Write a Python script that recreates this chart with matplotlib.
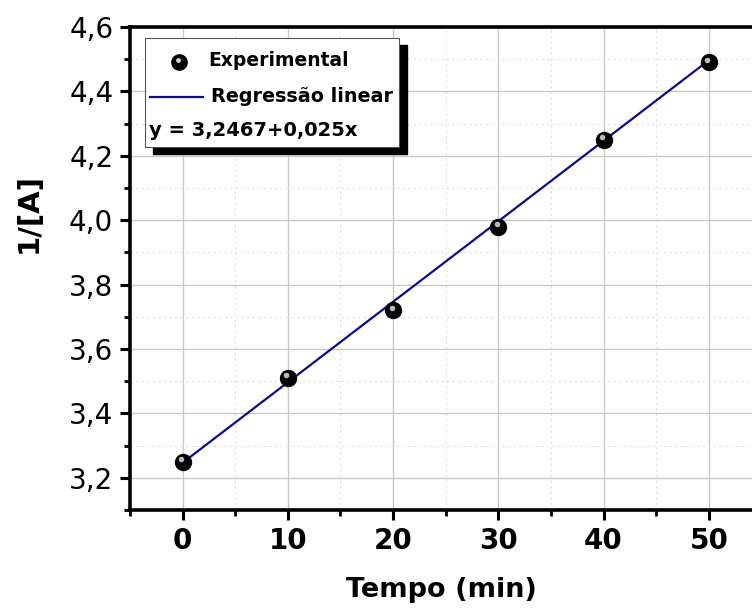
import matplotlib.pyplot as plt
from matplotlib.lines import Line2D
from matplotlib.patches import Rectangle
from matplotlib.ticker import MultipleLocator, FuncFormatter
import matplotlib.transforms as mtransforms
import numpy as np

# data
tempo = [0, 10, 20, 30, 40, 50]
inv_a = [3.25, 3.51, 3.72, 3.98, 4.25, 4.49]
intercept = 3.2467
slope = 0.025

W, H = 752, 609
fig = plt.figure(figsize=(W / 100, H / 100), dpi=100)
ax = fig.add_axes([130 / W, 1 - 510 / H, (W - 130) / W, (510 - 27) / H])


def fx(px):
    return px / W


def fy(py):
    return 1 - py / H


comma = FuncFormatter(lambda v, p: f"{v:.1f}".replace(".", ","))

# grid
ax.set_xlim(-5, 54.1)
ax.set_ylim(3.1, 4.6)
ax.xaxis.set_major_locator(MultipleLocator(10))
ax.xaxis.set_minor_locator(MultipleLocator(5))
ax.yaxis.set_major_locator(MultipleLocator(0.2))
ax.yaxis.set_minor_locator(MultipleLocator(0.1))
ax.yaxis.set_major_formatter(comma)
ax.grid(which="major", color="#c8c8c8", lw=1.0, ls="-")
ax.grid(which="minor", color="#dcdcdc", lw=0.8, ls=(0, (2, 3)))
ax.set_axisbelow(True)

# regression line
xs = np.array([tempo[0], tempo[-1]])
ax.plot(xs, intercept + slope * xs, color="#0a0a8c", lw=1.6, zorder=3)

# sphere markers
ax.plot(tempo, inv_a, "o", ms=11.5, color="black", mec="black", zorder=4)
hl = mtransforms.offset_copy(ax.transData, fig=fig, x=-1.5, y=2.5, units="dots")
ax.plot(tempo, inv_a, "o", ms=4, color="#d0d0d0", mec="none", alpha=0.9,
        transform=hl, zorder=5)

# spines / ticks
for s in ["left", "bottom", "top"]:
    ax.spines[s].set_linewidth(2.6)
ax.spines["right"].set_visible(False)
ax.tick_params(which="major", direction="out", length=7, width=2.2,
               labelsize=20, pad=5)
ax.tick_params(which="minor", direction="out", length=4, width=2.0)
ax.tick_params(axis="x", which="both", top=False)
for lab in ax.get_xticklabels():
    lab.set_fontweight("bold")

ax.set_xlabel("Tempo (min)", fontsize=19.5, fontweight="bold", labelpad=16)
ax.set_ylabel("1/[A]", fontsize=21, fontweight="bold")
ax.yaxis.set_label_coords(-0.14, 0.615)

# legend box with black shadow
bx0, by0, bx1, by1 = 145, 38, 399, 147
fig.add_artist(Rectangle((fx(bx0 + 8), fy(by1 + 7)), (bx1 - bx0) / W, (by1 - by0) / H,
                         transform=fig.transFigure, color="black", zorder=10))
fig.add_artist(Rectangle((fx(bx0), fy(by1)), (bx1 - bx0) / W, (by1 - by0) / H,
                         transform=fig.transFigure, facecolor="white",
                         edgecolor="#555555", lw=0.8, zorder=11))
fig.add_artist(Line2D([fx(179)], [fy(62)], marker="o", ms=11, color="black",
                      transform=fig.transFigure, zorder=12))
fig.add_artist(Line2D([fx(177.5)], [fy(59.5)], marker="o", ms=3.5, color="#d0d0d0",
                      mec="none", transform=fig.transFigure, zorder=13))
fig.add_artist(Line2D([fx(150), fx(203)], [fy(97), fy(97)], color="#0a0a8c", lw=1.6,
                      transform=fig.transFigure, zorder=12))
fig.text(fx(208), fy(61), "Experimental", fontsize=13.5, fontweight="bold",
         va="center", ha="left", zorder=12)
fig.text(fx(211), fy(96), "Regressão linear", fontsize=13.8, fontweight="bold",
         va="center", ha="left", zorder=12)
eq = f"y = {intercept}+{slope}x".replace(".", ",")
fig.text(fx(149), fy(131), eq, fontsize=14, fontweight="bold",
         va="center", ha="left", zorder=12)

fig.savefig("out.png", dpi=100)
